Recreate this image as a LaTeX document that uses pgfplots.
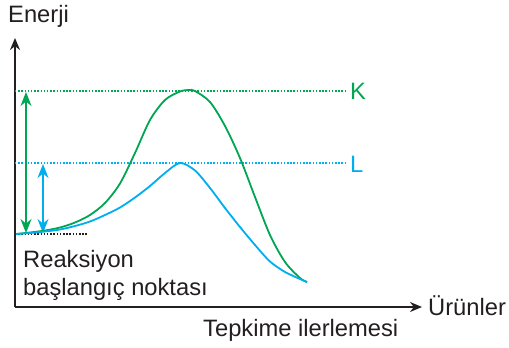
\documentclass[border=0pt]{standalone}
\usepackage{pgfplots}
\pgfplotsset{compat=1.18}
\usetikzlibrary{arrows.meta}
\usepackage{fontspec}
\setmainfont{Liberation Sans}
\definecolor{kgreen}{HTML}{00A651}
\definecolor{lblue}{HTML}{00AEEF}
\definecolor{axisblack}{HTML}{231F20}

\begin{document}
\begin{tikzpicture}[font=\fontsize{23.8}{28}\selectfont]
\begin{axis}[
    x=1bp, y=1bp,
    xmin=15, xmax=422,
    ymin=40, ymax=309,
    axis lines=left,
    axis line style={axisblack, line width=1.6bp, -{Stealth[length=12bp,width=10bp]}},
    xtick=\empty, ytick=\empty,
    clip=false,
]
% reference levels
\addplot[kgreen, line width=1.5bp, dash pattern=on 1.5bp off 1.7bp] coordinates {(15,256) (345,256)};
\addplot[lblue, line width=1.5bp, dash pattern=on 1.5bp off 1.7bp] coordinates {(15,184) (345,184)};
\addplot[axisblack, line width=1.5bp, dash pattern=on 1.5bp off 1.7bp] coordinates {(15,113) (88,113)};
% energy differences
\addplot[kgreen, line width=1.6bp, {Stealth[length=14bp,width=11bp]}-{Stealth[length=14bp,width=11bp]}] coordinates {(26,114) (26,255)};
\addplot[lblue, line width=1.6bp, {Stealth[length=14bp,width=11bp]}-{Stealth[length=14bp,width=11bp]}] coordinates {(43,114) (43,183)};
% reaction paths
\addplot[kgreen, line width=1.8bp, smooth] coordinates {
 (16,113) (30,114.5) (45,116.5) (60,119.5) (75,124.5) (90,132) (105,144)
 (120,163.5) (135,194) (150,227) (165,247) (180,255.5) (189,257) (195,256)
 (210,245) (225,221) (240,189) (255,150) (270,112) (285,85) (300,69) (307,65)};
\addplot[lblue, line width=1.8bp, smooth] coordinates {
 (16,113) (30,114) (45,115.5) (60,117.5) (75,121) (90,125.5) (105,132)
 (120,139.5) (135,149.5) (150,161) (165,174) (180,184) (195,176.5)
 (210,159) (225,139) (240,120) (255,102) (270,85.5) (285,75) (300,68) (307,65)};
% texts
\node[anchor=base west, text=axisblack, inner sep=0pt] at (axis cs:8,325) {Enerji};
\node[anchor=base west, text=kgreen, inner sep=0pt] at (axis cs:350,248) {K};
\node[anchor=base west, text=lblue, inner sep=0pt] at (axis cs:350,175) {L};
\node[anchor=base west, text=axisblack, inner sep=0pt] at (axis cs:23,80) {Reaksiyon};
\node[anchor=base west, text=axisblack, inner sep=0pt] at (axis cs:23,52) {başlangıç noktası};
\node[anchor=base west, text=axisblack, inner sep=0pt] at (axis cs:428,32) {Ürünler};
\node[anchor=base west, text=axisblack, inner sep=0pt] at (axis cs:203,11) {Tepkime ilerlemesi};
\coordinate (BL) at (axis cs:0,0);
\coordinate (TR) at (axis cs:509,347);
\end{axis}
\pgfresetboundingbox
\useasboundingbox (BL) rectangle (TR);
\end{tikzpicture}
\end{document}
